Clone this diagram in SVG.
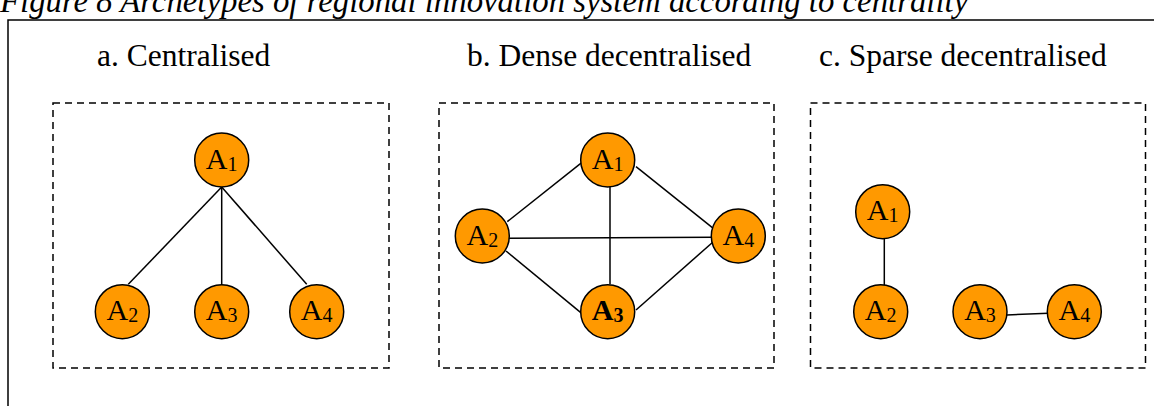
<svg xmlns="http://www.w3.org/2000/svg" width="1154" height="406" viewBox="0 0 1154 406">
  <style>
    .caption { font-family: "Liberation Serif", "Times New Roman", serif; font-style: italic; font-size: 32.8px; fill: #000; }
    .title { font-family: "Liberation Serif", "Times New Roman", serif; font-size: 31.5px; fill: #000; }
    .frame { fill: none; stroke: #000; stroke-width: 1.5; }
    .panel { fill: none; stroke: #000; stroke-width: 1.5; stroke-dasharray: 7 5; }
    .node circle { fill: #FF9900; stroke: #000; stroke-width: 1.5; }
    .node text { font-family: "Liberation Serif", "Times New Roman", serif; font-size: 30px; fill: #000; text-anchor: middle; }
    .node tspan.sub { font-size: 20px; }
    .node text.bold { font-weight: bold; }
    .edges line { stroke: #000; stroke-width: 1.5; }
  </style>

  <!-- caption (clipped at top edge) -->
  <text class="caption" x="0" y="12">Figure 8 Archetypes of regional innovation system according to centrality</text>

  <!-- outer frame: top and left rules -->
  <path class="frame" d="M8,406 V20 H1154"/>

  <!-- panel titles -->
  <text class="title" x="97" y="66">a. Centralised</text>
  <text class="title" x="467" y="66">b. Dense decentralised</text>
  <text class="title" x="819" y="66">c. Sparse decentralised</text>

  <!-- dashed panels -->
  <rect class="panel" x="53" y="103" width="336" height="265"/>
  <rect class="panel" x="439" y="103" width="335" height="265"/>
  <rect class="panel" x="810.5" y="103" width="335" height="265"/>

  <!-- connectors -->
  <g id="connectors" class="edges">
    <!-- a. centralised -->
    <line x1="221.7" y1="187" x2="128.3" y2="284.3"/>
    <line x1="221.7" y1="187" x2="221.7" y2="284.3"/>
    <line x1="221.7" y1="187" x2="306.7" y2="284.3"/>
    <!-- b. dense decentralised -->
    <line x1="507.3" y1="221.7" x2="581.7" y2="162.7"/>
    <line x1="636" y1="166.7" x2="713.3" y2="228.3"/>
    <line x1="610" y1="186.7" x2="610" y2="284.3"/>
    <line x1="509" y1="238.3" x2="713.3" y2="237.3"/>
    <line x1="506" y1="251" x2="581.7" y2="313.3"/>
    <line x1="636" y1="310" x2="713.3" y2="241.7"/>
    <!-- c. sparse decentralised -->
    <line x1="884.3" y1="238.7" x2="884.3" y2="286"/>
    <line x1="1006.7" y1="315" x2="1048.3" y2="313.3"/>
  </g>

  <!-- a. centralised -->
  <g id="a-A1" class="node"><circle cx="221.7" cy="160" r="27"/><text x="221.7" y="169">A<tspan class="sub" dy="2">1</tspan></text></g>
  <g id="a-A2" class="node"><circle cx="122.3" cy="311.7" r="27"/><text x="122.3" y="320">A<tspan class="sub" dy="2">2</tspan></text></g>
  <g id="a-A3" class="node"><circle cx="221.7" cy="311.7" r="27"/><text x="221.7" y="320">A<tspan class="sub" dy="2">3</tspan></text></g>
  <g id="a-A4" class="node"><circle cx="316.7" cy="311.7" r="27"/><text x="316.7" y="320">A<tspan class="sub" dy="2">4</tspan></text></g>

  <!-- b. dense decentralised -->
  <g id="b-A1" class="node"><circle cx="607.7" cy="160" r="27"/><text x="607.7" y="169">A<tspan class="sub" dy="2">1</tspan></text></g>
  <g id="b-A2" class="node"><circle cx="482.3" cy="236" r="27"/><text x="482.3" y="245">A<tspan class="sub" dy="2">2</tspan></text></g>
  <g id="b-A3" class="node"><circle cx="607.7" cy="311.7" r="27"/><text class="bold" x="607.7" y="320">A<tspan class="sub" dy="2">3</tspan></text></g>
  <g id="b-A4" class="node"><circle cx="738.3" cy="236" r="27"/><text x="738.3" y="245">A<tspan class="sub" dy="2">4</tspan></text></g>

  <!-- c. sparse decentralised -->
  <g id="c-A1" class="node"><circle cx="882.7" cy="211.7" r="27"/><text x="882.7" y="220">A<tspan class="sub" dy="2">1</tspan></text></g>
  <g id="c-A2" class="node"><circle cx="880.7" cy="311.7" r="27"/><text x="880.7" y="320">A<tspan class="sub" dy="2">2</tspan></text></g>
  <g id="c-A3" class="node"><circle cx="980" cy="311.7" r="27"/><text x="980" y="320">A<tspan class="sub" dy="2">3</tspan></text></g>
  <g id="c-A4" class="node"><circle cx="1074.3" cy="311.7" r="27"/><text x="1074.3" y="320">A<tspan class="sub" dy="2">4</tspan></text></g>
</svg>
